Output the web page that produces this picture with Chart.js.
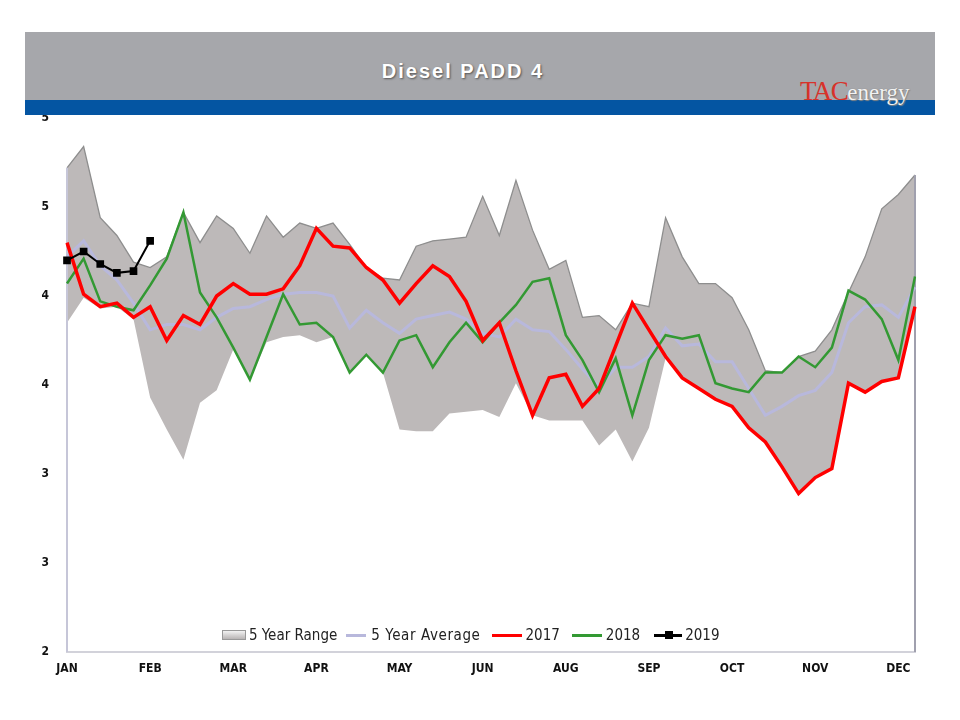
<!DOCTYPE html>
<html>
<head>
<meta charset="utf-8">
<script src="https://cdn.jsdelivr.net/npm/chart.js@4.4.1/dist/chart.umd.min.js"></script>
<style>
  body { margin: 0; background: #fff; }
  #wrap { position: relative; width: 960px; height: 720px; overflow: hidden; }
  #chart { position: absolute; left: 0; top: 0; }
  #band { position: absolute; left: 25px; top: 32px; width: 910px; height: 68px; background: #a6a7ab; }
  #blue { position: absolute; left: 25px; top: 100px; width: 910px; height: 15px; background: #0455a2; }
  #title { position: absolute; left: 362px; top: 60px; width: 202px; text-align: center;
    font: bold 20px "Liberation Sans", Arial, sans-serif; color: #fff; letter-spacing: 2px;
    text-shadow: 1px 1px 2px #555; }
  #logo { position: absolute; left: 800px; top: 76px; font-family: "Liberation Serif", serif; white-space: nowrap; }
  #logo .tac { color: #d8322a; font-size: 27px; letter-spacing: -1.5px; }
  #logo .en { color: #f2f2f2; font-size: 23px; text-shadow: 0 0 1px #777, 1px 1px 1px #888; }
  #legend { position: absolute; top: 626px; left: 222px; display: flex; align-items: center;
    font: 15px "Liberation Sans Narrow", "DejaVu Sans Condensed", "Liberation Sans", sans-serif; color: #222; }
  #legend .it { display: flex; align-items: center; margin-right: 11px; }
  #legend .box { width: 22px; height: 8px; margin-right: 3px; border: 1px solid #999;
    background: linear-gradient(#f2f2f2, #b8b4b4); }
  #legend .ln { width: 30px; height: 3px; margin-right: 4px; position: relative; }
  #legend .sq { position: absolute; left: 11px; top: -3px; width: 8px; height: 8px; background: #000; }
</style>
</head>
<body>
<div id="wrap">
  <canvas id="chart" width="960" height="720"></canvas>
  <div id="band"></div>
  <div id="blue"></div>
  <div id="title">Diesel PADD 4</div>
  <div id="logo"><span class="tac">TAC</span><span class="en">energy</span></div>
  <div id="legend">
    <div class="it" style="margin-right:9px"><div class="box"></div>5 Year Range</div>
    <div class="it"><div class="ln" style="background:#b8b8dc;width:20px;margin-right:5px"></div><span style="letter-spacing:0.6px">5 Year Average</span></div>
    <div class="it" style="margin-right:12px"><div class="ln" style="background:#ff0000"></div>2017</div>
    <div class="it" style="margin-right:14px"><div class="ln" style="background:#339933"></div>2018</div>
    <div class="it"><div class="ln" style="background:#000;width:28px;margin-right:3px"><div class="sq"></div></div>2019</div>
  </div>
</div>
<script>
// weekly data, 52 weeks
var monthTicks = ['JAN', 'FEB', 'MAR', 'APR', 'MAY', 'JUN', 'AUG', 'SEP', 'OCT', 'NOV', 'DEC'];
var weeks = [];
for (var w = 1; w <= 52; w++) weeks.push(w);

var rangeLow = [3.85, 3.99, 3.93, 3.94, 3.87, 3.43, 3.25, 3.08, 3.40, 3.47,
  3.70, 3.53, 3.74, 3.77, 3.78, 3.74, 3.77, 3.57, 3.67, 3.57,
  3.25, 3.24, 3.24, 3.34, 3.35, 3.36, 3.32, 3.51, 3.33, 3.30,
  3.30, 3.30, 3.16, 3.25, 3.07, 3.26, 3.65, 3.54, 3.48, 3.42,
  3.38, 3.26, 3.18, 3.04, 2.89, 2.98, 3.03, 3.51, 3.46, 3.52,
  3.54, 3.94];
var rangeHigh = [4.72, 4.84, 4.44, 4.34, 4.19, 4.16, 4.22, 4.47, 4.30, 4.45,
  4.38, 4.24, 4.45, 4.33, 4.41, 4.38, 4.41, 4.29, 4.16, 4.10,
  4.09, 4.28, 4.31, 4.32, 4.33, 4.56, 4.34, 4.65, 4.37, 4.15,
  4.20, 3.88, 3.89, 3.81, 3.96, 3.94, 4.44, 4.22, 4.07, 4.07,
  3.99, 3.81, 3.58, 3.57, 3.66, 3.69, 3.81, 4.02, 4.22, 4.49,
  4.57, 4.68];
var avg5 = [4.22, 4.31, 4.17, 4.09, 3.96, 3.81, 3.84, 3.84, 3.81, 3.88,
  3.93, 3.94, 3.98, 4.01, 4.02, 4.02, 4.00, 3.82, 3.92, 3.85,
  3.79, 3.87, 3.89, 3.91, 3.87, 3.79, 3.77, 3.87, 3.81, 3.80,
  3.70, 3.59, 3.49, 3.60, 3.60, 3.66, 3.82, 3.72, 3.73, 3.63,
  3.63, 3.48, 3.33, 3.38, 3.44, 3.47, 3.57, 3.85, 3.94, 3.95,
  3.88, 4.05];
var y2017 = [4.30, 4.01, 3.94, 3.96, 3.88, 3.94, 3.75, 3.89, 3.84, 4.00,
  4.07, 4.01, 4.01, 4.04, 4.17, 4.38, 4.28, 4.27, 4.16, 4.09,
  3.96, 4.07, 4.17, 4.11, 3.97, 3.75, 3.85, 3.58, 3.33, 3.54,
  3.56, 3.38, 3.48, 3.72, 3.96, 3.81, 3.66, 3.54, 3.48, 3.42,
  3.38, 3.26, 3.18, 3.04, 2.89, 2.98, 3.03, 3.51, 3.46, 3.52,
  3.54, 3.94];
var y2018 = [4.07, 4.21, 3.97, 3.94, 3.92, 4.06, 4.21, 4.47, 4.02, 3.88,
  3.71, 3.53, 3.77, 4.01, 3.84, 3.85, 3.77, 3.57, 3.67, 3.57,
  3.75, 3.78, 3.60, 3.74, 3.85, 3.74, 3.85, 3.95, 4.08, 4.10,
  3.78, 3.64, 3.46, 3.65, 3.33, 3.64, 3.78, 3.76, 3.78, 3.51,
  3.48, 3.46, 3.57, 3.57, 3.66, 3.60, 3.71, 4.03, 3.98, 3.87,
  3.64, 4.11];
var y2019 = [4.20, 4.25, 4.18, 4.13, 4.14, 4.31];

var yMin = 2, yMax = 5, yStep = 0.5;

// side edges of the range area, drawn right after the area so the lines sit on top
var edgePlugin = {
  id: 'edges',
  afterDatasetDraw: function (chart, args) {
    if (args.index !== 1) return;
    var pts = args.meta.data;
    var ctx = chart.ctx, bottom = chart.chartArea.bottom;
    ctx.save();
    ctx.lineWidth = 2;
    ctx.strokeStyle = '#c6c6d8';
    ctx.beginPath();
    ctx.moveTo(pts[0].x, pts[0].y);
    ctx.lineTo(pts[0].x, bottom);
    ctx.stroke();
    ctx.strokeStyle = '#a0a0ae';
    ctx.beginPath();
    ctx.moveTo(pts[pts.length - 1].x, pts[pts.length - 1].y);
    ctx.lineTo(pts[pts.length - 1].x, bottom);
    ctx.stroke();
    ctx.restore();
  }
};

var tickFont = { family: '"Liberation Sans Narrow", "DejaVu Sans Condensed", "Liberation Sans", Arial', size: 12, weight: 'bold' };

new Chart(document.getElementById('chart'), {
  type: 'line',
  data: {
    labels: weeks,
    datasets: [
      { label: 'low', data: rangeLow, borderWidth: 0, pointRadius: 0, fill: false, order: 6 },
      { label: '5 Year Range', data: rangeHigh, borderColor: '#8e8e8e', borderWidth: 1.3,
        backgroundColor: '#bdb9b9', pointRadius: 0, fill: '-1', order: 5 },
      { label: '5 Year Average', data: avg5, borderColor: '#b8b8dc', borderWidth: 3, pointRadius: 0, order: 4 },
      { label: '2018', data: y2018, borderColor: '#339933', borderWidth: 2.5, pointRadius: 0, order: 3 },
      { label: '2017', data: y2017, borderColor: '#ff0000', borderWidth: 3.5, pointRadius: 0, order: 2 },
      { label: '2019', data: y2019, borderColor: '#000000', backgroundColor: '#000000', borderWidth: 2,
        pointStyle: 'rect', pointRadius: 4, order: 1, clip: false }
    ]
  },
  options: {
    responsive: false,
    animation: false,
    layout: { padding: { top: 118, right: 45, bottom: 0, left: 0 } },
    plugins: { legend: { display: false }, tooltip: { enabled: false } },
    elements: { line: { tension: 0 } },
    scales: {
      x: {
        offset: false,
        grid: { display: false },
        border: { display: true, color: '#d2d2da', width: 2 },
        ticks: {
          autoSkip: false, maxRotation: 0, padding: 2, color: '#111', font: tickFont,
          callback: function (v, i) { return i % 5 === 0 ? monthTicks[i / 5] : ''; }
        },
        afterFit: function (s) { s.height = 68; }
      },
      y: {
        min: yMin, max: yMax,
        grid: { display: false },
        border: { display: false },
        ticks: { stepSize: yStep, padding: 10, color: '#111', font: tickFont,
          callback: function (v) { return Math.round(v); } },
        afterFit: function (s) { s.width = 67; }
      }
    }
  },
  plugins: [edgePlugin]
});
</script>
</body>
</html>
